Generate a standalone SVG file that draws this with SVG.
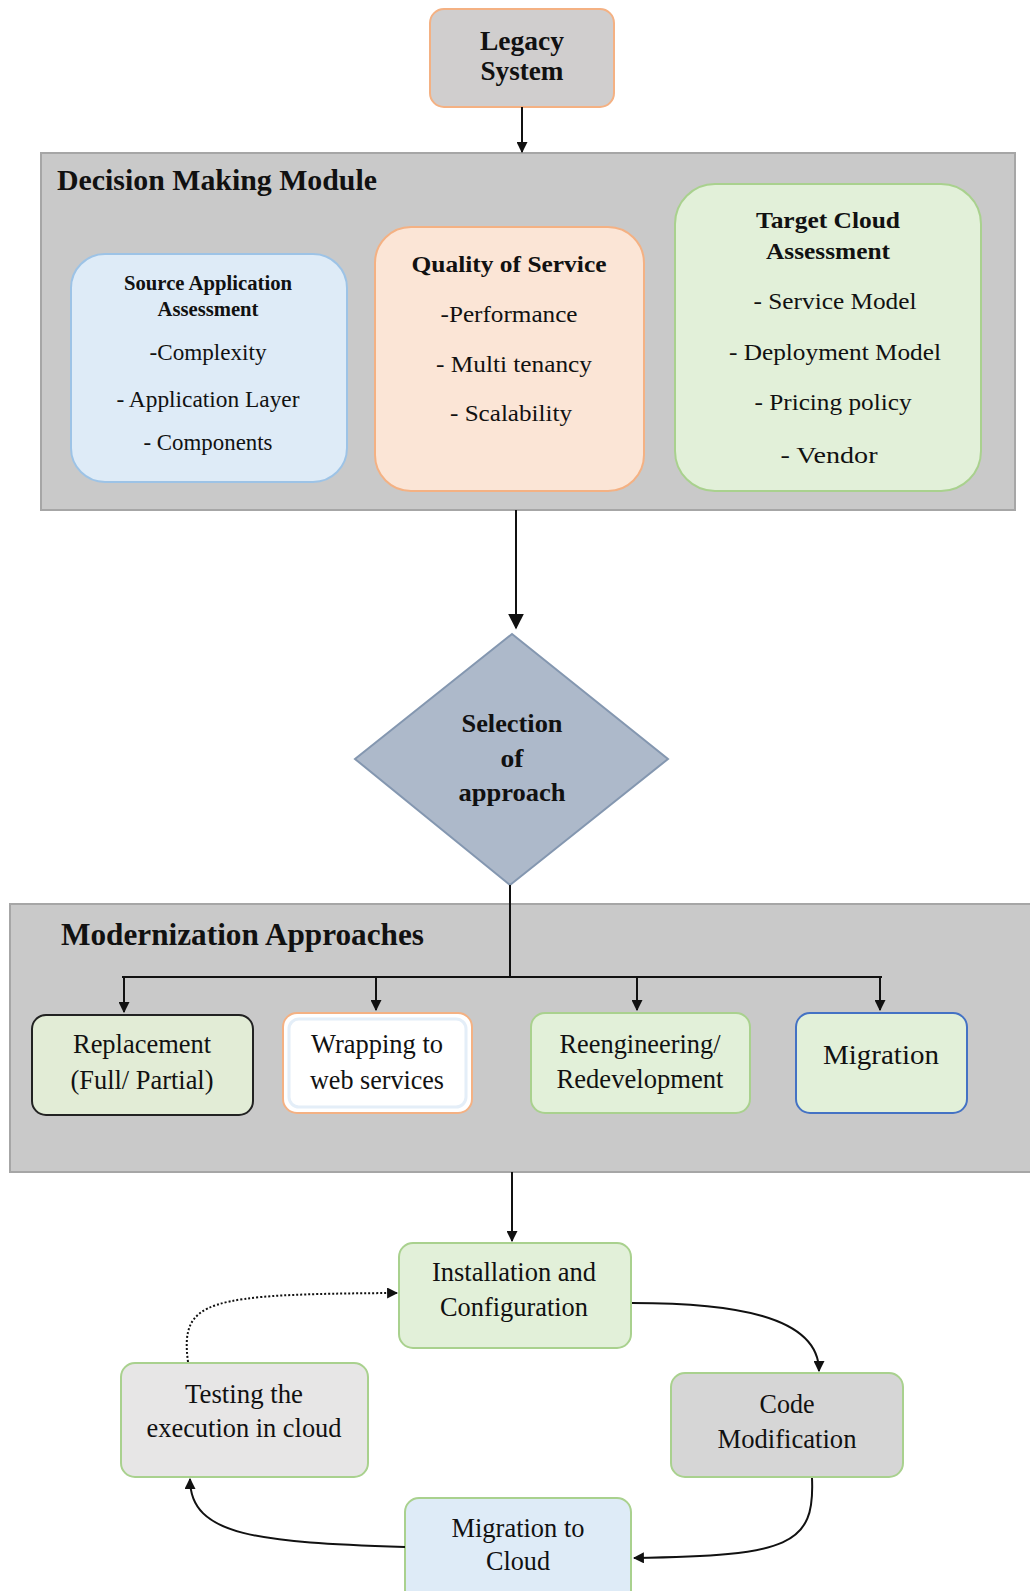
<svg xmlns="http://www.w3.org/2000/svg" width="1030" height="1591" viewBox="0 0 1030 1591">
<style>
text{font-family:"Liberation Serif","Times New Roman",serif;fill:#111;text-anchor:middle}
.b{font-weight:bold}
.t{font-weight:bold;text-anchor:start}
.c{fill:none;stroke:#111;stroke-width:2}
</style>
<defs>
<marker id="ah" viewBox="0 0 10 10" refX="9" refY="5" markerWidth="11" markerHeight="11" orient="auto" markerUnits="userSpaceOnUse"><path d="M0,0 L10,5 L0,10 z" fill="#111"/></marker>
<marker id="ahL" viewBox="0 0 10 10" refX="9" refY="5" markerWidth="16" markerHeight="16" orient="auto" markerUnits="userSpaceOnUse"><path d="M0,0 L10,5 L0,10 z" fill="#111"/></marker>
<marker id="ah2" viewBox="0 0 10 10" refX="9" refY="5" markerWidth="11" markerHeight="11" orient="auto" markerUnits="userSpaceOnUse"><path d="M0,0 L10,5 L0,10 z" fill="#111"/></marker>
</defs>
<rect width="1030" height="1591" fill="#ffffff"/>

<g id="decision-module">
<rect x="41" y="153" width="974" height="357" fill="#c9c9c9" stroke="#a6a6a6" stroke-width="2"/>
<text class="t" x="57" y="190" font-size="29" textLength="320" lengthAdjust="spacingAndGlyphs">Decision Making Module</text>
</g>
<g id="modernization-module">
<rect x="10" y="904" width="1025" height="268" fill="#c9c9c9" stroke="#a6a6a6" stroke-width="2"/>
<text class="t" x="61" y="945" font-size="31" textLength="363" lengthAdjust="spacingAndGlyphs">Modernization Approaches</text>
</g>

<g id="legacy-system">
<rect x="430" y="9" width="184" height="98" rx="14" fill="#d0cece" stroke="#f4b183" stroke-width="2"/>
<text class="b" x="522" y="50" font-size="28" textLength="84" lengthAdjust="spacingAndGlyphs">Legacy</text>
<text class="b" x="522" y="80" font-size="28" textLength="83" lengthAdjust="spacingAndGlyphs">System</text>
</g>

<g id="source-application">
<rect x="71" y="254" width="276" height="228" rx="34" fill="#deebf7" stroke="#9dc3e6" stroke-width="2"/>
<text class="b" x="208" y="290" font-size="20" textLength="168" lengthAdjust="spacingAndGlyphs">Source Application</text>
<text class="b" x="208" y="316" font-size="20" textLength="101" lengthAdjust="spacingAndGlyphs">Assessment</text>
<text x="208" y="360" font-size="23" textLength="117" lengthAdjust="spacingAndGlyphs">-Complexity</text>
<text x="208" y="407" font-size="23" textLength="183" lengthAdjust="spacingAndGlyphs">- Application Layer</text>
<text x="208" y="450" font-size="23" textLength="129" lengthAdjust="spacingAndGlyphs">- Components</text>
</g>

<g id="quality-of-service">
<rect x="375" y="227" width="269" height="264" rx="36" fill="#fbe5d6" stroke="#f4b183" stroke-width="2"/>
<text class="b" x="509" y="272" font-size="24" textLength="195" lengthAdjust="spacingAndGlyphs">Quality of Service</text>
<text x="509" y="322" font-size="24" textLength="137" lengthAdjust="spacingAndGlyphs">-Performance</text>
<text x="514" y="372" font-size="24" textLength="156" lengthAdjust="spacingAndGlyphs">- Multi tenancy</text>
<text x="511" y="421" font-size="24" textLength="122" lengthAdjust="spacingAndGlyphs">- Scalability</text>
</g>

<g id="target-cloud">
<rect x="675" y="184" width="306" height="307" rx="40" fill="#e2f0d9" stroke="#a9d18e" stroke-width="2"/>
<text class="b" x="828" y="228" font-size="24" textLength="144" lengthAdjust="spacingAndGlyphs">Target Cloud</text>
<text class="b" x="828" y="259" font-size="24" textLength="124" lengthAdjust="spacingAndGlyphs">Assessment</text>
<text x="835" y="309" font-size="24" textLength="163" lengthAdjust="spacingAndGlyphs">- Service Model</text>
<text x="835" y="360" font-size="24" textLength="212" lengthAdjust="spacingAndGlyphs">- Deployment Model</text>
<text x="833" y="410" font-size="24" textLength="157" lengthAdjust="spacingAndGlyphs">- Pricing policy</text>
<text x="829" y="463" font-size="24" textLength="97" lengthAdjust="spacingAndGlyphs">- Vendor</text>
</g>

<g id="selection">
<polygon points="512,634 668,759 510,885 355,759" fill="#adb9ca" stroke="#8497b0" stroke-width="2"/>
<text class="b" x="512" y="732" font-size="26" textLength="101" lengthAdjust="spacingAndGlyphs">Selection</text>
<text class="b" x="512" y="767" font-size="26" textLength="23" lengthAdjust="spacingAndGlyphs">of</text>
<text class="b" x="512" y="801" font-size="26" textLength="107" lengthAdjust="spacingAndGlyphs">approach</text>
</g>

<g id="replacement">
<rect x="32" y="1015" width="221" height="100" rx="14" fill="#e2ecd6" stroke="#222" stroke-width="2"/>
<text x="142" y="1053" font-size="27" textLength="138" lengthAdjust="spacingAndGlyphs">Replacement</text>
<text x="142" y="1089" font-size="27" textLength="143" lengthAdjust="spacingAndGlyphs">(Full/ Partial)</text>
</g>
<g id="wrapping">
<rect x="283" y="1013" width="189" height="100" rx="14" fill="#ffffff" stroke="#f4b183" stroke-width="2"/>
<rect x="289" y="1019" width="177" height="88" rx="10" fill="none" stroke="#e4eef8" stroke-width="3"/>
<text x="377" y="1053" font-size="27" textLength="132" lengthAdjust="spacingAndGlyphs">Wrapping to</text>
<text x="377" y="1089" font-size="27" textLength="134" lengthAdjust="spacingAndGlyphs">web services</text>
</g>
<g id="reengineering">
<rect x="531" y="1013" width="219" height="100" rx="14" fill="#e2f0d9" stroke="#a9d18e" stroke-width="2"/>
<text x="640" y="1053" font-size="27" textLength="161" lengthAdjust="spacingAndGlyphs">Reengineering/</text>
<text x="640" y="1088" font-size="27" textLength="167" lengthAdjust="spacingAndGlyphs">Redevelopment</text>
</g>
<g id="migration">
<rect x="796" y="1013" width="171" height="100" rx="14" fill="#e2f0d9" stroke="#4472c4" stroke-width="2"/>
<text x="881" y="1064" font-size="27" textLength="116" lengthAdjust="spacingAndGlyphs">Migration</text>
</g>

<g id="installation">
<rect x="399" y="1243" width="232" height="105" rx="14" fill="#e2f0d9" stroke="#a9d18e" stroke-width="2"/>
<text x="514" y="1281" font-size="27" textLength="164" lengthAdjust="spacingAndGlyphs">Installation and</text>
<text x="514" y="1316" font-size="27" textLength="148" lengthAdjust="spacingAndGlyphs">Configuration</text>
</g>
<g id="testing">
<rect x="121" y="1363" width="247" height="114" rx="14" fill="#e7e6e6" stroke="#a9d18e" stroke-width="2"/>
<text x="244" y="1403" font-size="27" textLength="118" lengthAdjust="spacingAndGlyphs">Testing the</text>
<text x="244" y="1437" font-size="27" textLength="195" lengthAdjust="spacingAndGlyphs">execution in cloud</text>
</g>
<g id="code-modification">
<rect x="671" y="1373" width="232" height="104" rx="14" fill="#d6d6d6" stroke="#a9d18e" stroke-width="2"/>
<text x="787" y="1413" font-size="27" textLength="55" lengthAdjust="spacingAndGlyphs">Code</text>
<text x="787" y="1448" font-size="27" textLength="139" lengthAdjust="spacingAndGlyphs">Modification</text>
</g>
<g id="migration-to-cloud">
<rect x="405" y="1498" width="226" height="110" rx="14" fill="#deebf7" stroke="#a9d18e" stroke-width="2"/>
<text x="518" y="1537" font-size="27" textLength="133" lengthAdjust="spacingAndGlyphs">Migration to</text>
<text x="518" y="1570" font-size="27" textLength="64" lengthAdjust="spacingAndGlyphs">Cloud</text>
</g>

<g id="connectors">
<line class="c" x1="522" y1="107" x2="522" y2="152" stroke-width="2.5" marker-end="url(#ah)"/>
<line class="c" x1="516" y1="510" x2="516" y2="628" stroke-width="3" marker-end="url(#ahL)"/>
<line class="c" x1="510" y1="885" x2="510" y2="977" stroke-width="3"/>
<line class="c" x1="122" y1="977" x2="882" y2="977" stroke-width="4"/>
<line class="c" x1="124" y1="977" x2="124" y2="1012" stroke-width="3" marker-end="url(#ah)"/>
<line class="c" x1="376" y1="977" x2="376" y2="1010" stroke-width="3" marker-end="url(#ah)"/>
<line class="c" x1="637" y1="977" x2="637" y2="1010" stroke-width="3" marker-end="url(#ah)"/>
<line class="c" x1="880" y1="977" x2="880" y2="1010" stroke-width="3" marker-end="url(#ah)"/>
<line class="c" x1="512" y1="1172" x2="512" y2="1241" stroke-width="1.5" marker-end="url(#ah2)"/>
<path class="c" d="M632,1303 C730,1303 819,1315 819,1371" stroke-width="1.8" marker-end="url(#ah2)"/>
<path class="c" d="M812,1478 C815,1545 790,1556 634,1558" stroke-width="1.8" marker-end="url(#ah2)"/>
<path class="c" d="M405,1547 C260,1542 190,1537 190,1479" stroke-width="1.8" marker-end="url(#ah2)"/>
<path class="c" d="M188,1362 C180,1300 205,1294 397,1293" stroke-width="1.5" stroke-dasharray="2,2" marker-end="url(#ah2)"/>
</g>
</svg>
